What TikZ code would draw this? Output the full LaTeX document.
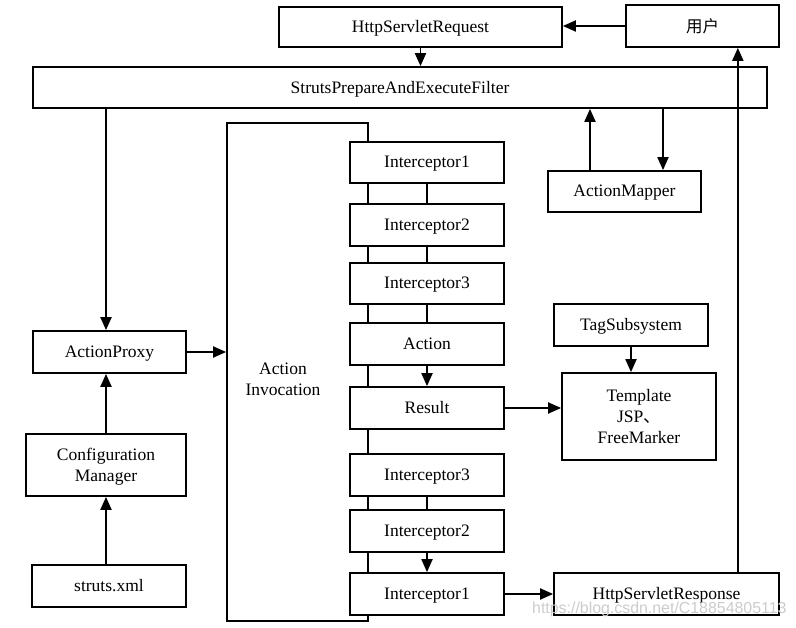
\documentclass[tikz,border=0pt]{standalone}
\usepackage{fontspec}
\setmainfont{Liberation Serif}
\newfontfamily\cjk{Noto Sans CJK SC}
\newfontfamily\wmfont{Liberation Sans}
\usetikzlibrary{arrows.meta,calc}
\tikzset{
  box/.style={draw, fill=white, line width=1.7pt, inner sep=0pt, align=center,
    text depth=1pt, font=\fontsize{17.5}{21}\selectfont},
  arr/.style={line width=1.9pt, -{Triangle[length=13pt,width=11pt]}},
  ln/.style={line width=1.9pt},
}
\begin{document}
\begin{tikzpicture}[x=1pt,y=-1pt]
\useasboundingbox (0,0) rectangle (796,628);
% Action Invocation outline
\node[draw, line width=1.7pt, minimum width=141pt, minimum height=498pt, inner sep=0pt] (inv) at (297.5,372) {};
\node[font=\fontsize{17.5}{21}\selectfont, align=center] (invtext) at (283,379) {Action\\Invocation};
% top
\node[box, minimum width=283pt, minimum height=40pt] (req) at (420.5,27) {HttpServletRequest};
\node[box, minimum width=153pt, minimum height=42pt] (user) at (702.5,26) {\cjk\fontsize{16.5}{19}\selectfont 用户};
\node[box, minimum width=734pt, minimum height=41pt] (filter) at (400,87.5) {StrutsPrepareAndExecuteFilter};
\node[box, minimum width=153pt, minimum height=41pt] (mapper) at (624.5,191.5) {ActionMapper};
% stack
\node[box, minimum width=154pt, minimum height=41pt] (i1) at (427,162.5) {Interceptor1};
\node[box, minimum width=154pt, minimum height=42pt] (i2) at (427,225) {Interceptor2};
\node[box, minimum width=154pt, minimum height=41pt] (i3) at (427,283.5) {Interceptor3};
\node[box, minimum width=154pt, minimum height=42pt] (action) at (427,344) {Action};
\node[box, minimum width=154pt, minimum height=42pt] (result) at (427,408) {Result};
\node[box, minimum width=154pt, minimum height=42pt] (i3b) at (427,475) {Interceptor3};
\node[box, minimum width=154pt, minimum height=42pt] (i2b) at (427,531) {Interceptor2};
\node[box, minimum width=154pt, minimum height=42pt] (i1b) at (427,594) {Interceptor1};
% left
\node[box, minimum width=153pt, minimum height=42pt] (proxy) at (109.5,352) {ActionProxy};
\node[box, minimum width=160pt, minimum height=62pt] (config) at (106,465) {Configuration\\Manager};
\node[box, minimum width=154pt, minimum height=42pt] (struts) at (109,586) {struts.xml};
% right
\node[box, minimum width=154pt, minimum height=42pt] (tag) at (631,325) {TagSubsystem};
\node[box, minimum width=154pt, minimum height=87pt] (template) at (639,416.5) {Template\\JSP{\cjk 、}\\FreeMarker};
\node[box, minimum width=225pt, minimum height=42pt] (response) at (666.5,594) {HttpServletResponse};
% connectors
\draw[arr] (user.west) -- (user.west -| req.east);
\draw[arr] (req.south) -- (req.south |- filter.north);
\draw[arr] ($(proxy.north |- filter.south)+(-3.5,0)$) -- ($(proxy.north)+(-3.5,0)$);
\draw[arr] ($(mapper.north)+(-34.5,0)$) -- ($(mapper.north |- filter.south)+(-34.5,0)$);
\draw[arr] ($(mapper.north |- filter.south)+(38.5,0)$) -- ($(mapper.north)+(38.5,0)$);
\draw[arr] (config.north) -- (config.north |- proxy.south);
\draw[arr] (struts.north -| config.south) -- (config.south);
\draw[arr] (proxy.east) -- (proxy.east -| inv.west);
\draw[ln] (i1.south) -- (i2.north);
\draw[ln] (i2.south) -- (i3.north);
\draw[ln] (i3.south) -- (action.north);
\draw[arr] (action.south) -- (result.north);
\draw[arr] (result.east) -- (result.east -| template.west);
\draw[arr] (tag.south) -- (tag.south |- template.north);
\draw[ln] (i3b.south) -- (i2b.north);
\draw[arr] (i2b.south) -- (i1b.north);
\draw[arr] (i1b.east) -- (i1b.east -| response.west);
\draw[arr] ($(response.north east)+(-42,0)$) -- ($(user.south east)+(-42,0)$);
% watermark
\node[anchor=base west, inner sep=0pt, text=black!20, font=\wmfont\fontsize{15.9}{18}\selectfont] (wm) at (532,613) {https://blog.csdn.net/C18854805113};
\end{tikzpicture}
\end{document}
